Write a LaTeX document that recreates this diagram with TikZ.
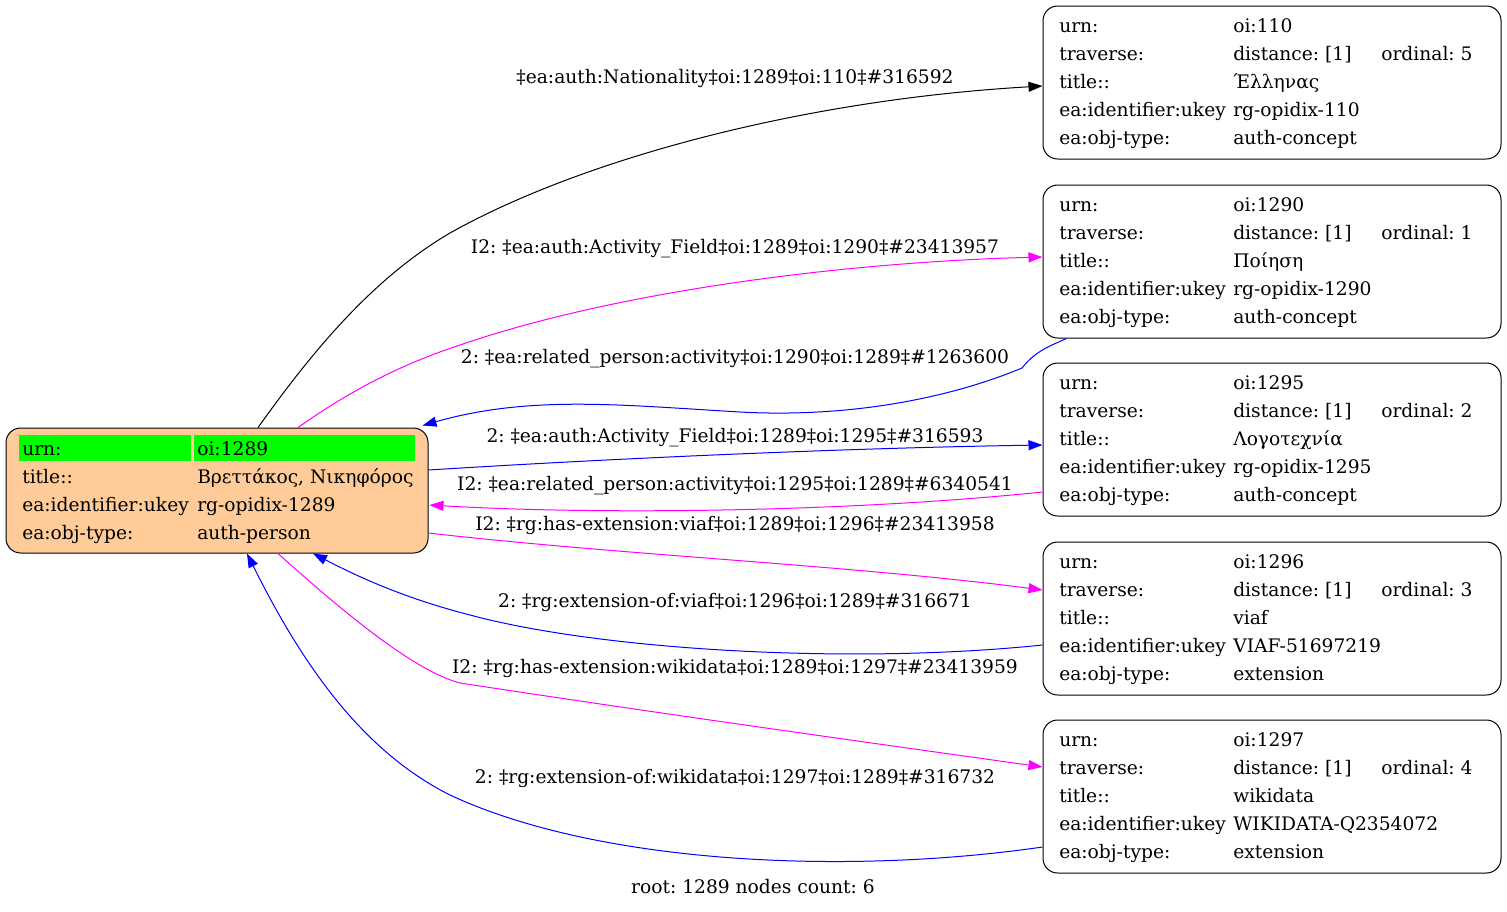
\documentclass[tikz,border=0pt]{standalone}
\usepackage{fontspec}
\setmainfont{DejaVu Serif}
\usetikzlibrary{arrows.meta,calc}
\definecolor{peach}{HTML}{FFCC99}
\definecolor{grn}{HTML}{00FF00}
\definecolor{mag}{HTML}{FF00FF}
\definecolor{blu}{HTML}{0000FF}
\frenchspacing
\tikzset{
 rbox/.style={draw, rounded corners=11pt, line width=0.75pt, minimum width=343.5pt, minimum height=114.75pt, inner sep=0pt},
 mbox/.style={rbox, fill=peach, minimum width=316.5pt, minimum height=93.75pt},
 cell/.style={anchor=base west, inner sep=0pt, font=\fontsize{14}{16}\selectfont},
 elab/.style={anchor=base, inner sep=0pt, font=\fontsize{14}{16}\selectfont},
 conn/.style={line width=0.75pt, -{Triangle[length=10.5pt,width=7.5pt]}},
}
\newcommand\mkrbox[7]{%
 \node[rbox] (#1) at (1272,#2) {};
 \node[cell] (#1-k1) at (1059,{#2-50.5}) {urn:};
 \node[cell] (#1-v1) at (1233,{#2-50.5}) {#3};
 \node[cell] (#1-k2) at (1059,{#2-22.5}) {traverse:};
 \node[cell] (#1-v2) at (1233,{#2-22.5}) {distance: [1]};
 \node[cell] (#1-o2) at (1381,{#2-22.5}) {ordinal: #4};
 \node[cell] (#1-k3) at (1059,{#2+5.5}) {title::};
 \node[cell] (#1-v3) at (1233,{#2+5.5}) {#5};
 \node[cell] (#1-k4) at (1059,{#2+33.5}) {ea:identifier:ukey};
 \node[cell] (#1-v4) at (1233,{#2+33.5}) {#6};
 \node[cell] (#1-k5) at (1059,{#2+61.5}) {ea:obj-type:};
 \node[cell] (#1-v5) at (1233,{#2+61.5}) {#7};
}
\begin{document}
\begin{tikzpicture}[x=0.75pt,y=-0.75pt]
\useasboundingbox (0,0) rectangle (1507,911);
% main node
\node[mbox] (main) at (217,490.5) {};
\fill[grn] (19,435) rectangle (191,461);
\fill[grn] (194,435) rectangle (415,461);
\node[cell] (m-k1) at (22,455) {urn:};
\node[cell] (m-v1) at (197,455) {oi:1289};
\node[cell] (m-k2) at (22,483) {title::};
\node[cell] (m-v2) at (197,483) {Βρεττάκος, Νικηφόρος};
\node[cell] (m-k3) at (22,511) {ea:identifier:ukey};
\node[cell] (m-v3) at (197,511) {rg-opidix-1289};
\node[cell] (m-k4) at (22,539) {ea:obj-type:};
\node[cell] (m-v4) at (197,539) {auth-person};
% right nodes
\mkrbox{b1}{82.5}{oi:110}{5}{Έλληνας}{rg-opidix-110}{auth-concept}
\mkrbox{b2}{261.5}{oi:1290}{1}{Ποίηση}{rg-opidix-1290}{auth-concept}
\mkrbox{b3}{439.5}{oi:1295}{2}{Λογοτεχνία}{rg-opidix-1295}{auth-concept}
\mkrbox{b4}{618.5}{oi:1296}{3}{viaf}{VIAF-51697219}{extension}
\mkrbox{b5}{796.5}{oi:1297}{4}{wikidata}{WIKIDATA-Q2354072}{extension}
% edges
\draw[conn, black] ($(main.north)+(41,0)$) .. controls (310,355) and (370,280) .. (450,233) .. controls (580,160) and (800,100) .. ($(b1.west)+(0,3.5)$);
\draw[conn, mag] ($(main.north)+(81,0)$) .. controls (340,398) and (390,368) .. (460,345) .. controls (620,290) and (850,262) .. ($(b2.west)+(0,-4.5)$);
\draw[conn, blu] ($(b2.south west)+(24,0)$) .. controls (1045,348) and (1035,352) .. (1022,368) .. controls (950,398) and (850,418) .. (740,412) .. controls (620,405) and (530,395) .. ($(main.north east)+(-6,-2)$);
\draw[conn, blu] ($(main.east)+(0,-20.5)$) .. controls (620,458) and (850,448) .. ($(b3.west)+(0,5.5)$);
\draw[conn, mag] ($(b3.west)+(0,52.5)$) .. controls (850,512) and (600,515) .. ($(main.east)+(1,14.5)$);
\draw[conn, mag] ($(main.east)+(0,42.5)$) .. controls (620,555) and (850,565) .. ($(b4.west)+(0,-28.5)$);
\draw[conn, blu] ($(b4.west)+(0,26.5)$) .. controls (850,665) and (600,650) .. (470,615) .. controls (400,597) and (355,575) .. ($(main.south)+(96,0)$);
\draw[conn, mag] ($(main.south)+(61,0)$) .. controls (330,600) and (410,670) .. (460,683) .. controls (650,712) and (850,740) .. ($(b5.west)+(0,-29.5)$);
\draw[conn, blu] ($(b5.west)+(0,50.5)$) .. controls (850,875) and (600,865) .. (450,795) .. controls (360,750) and (300,660) .. ($(main.south)+(30,0)$);
% edge labels
\node[elab] (l1) at (735,83) {‡ea:auth:Nationality‡oi:1289‡oi:110‡\#316592};
\node[elab] (l2) at (735,253) {I2: ‡ea:auth:Activity\_Field‡oi:1289‡oi:1290‡\#23413957};
\node[elab] (l3) at (735,363) {2: ‡ea:related\_person:activity‡oi:1290‡oi:1289‡\#1263600};
\node[elab] (l4) at (735,442) {2: ‡ea:auth:Activity\_Field‡oi:1289‡oi:1295‡\#316593};
\node[elab] (l5) at (735,490) {I2: ‡ea:related\_person:activity‡oi:1295‡oi:1289‡\#6340541};
\node[elab] (l6) at (735,530) {I2: ‡rg:has-extension:viaf‡oi:1289‡oi:1296‡\#23413958};
\node[elab] (l7) at (735,607) {2: ‡rg:extension-of:viaf‡oi:1296‡oi:1289‡\#316671};
\node[elab] (l8) at (735,673) {I2: ‡rg:has-extension:wikidata‡oi:1289‡oi:1297‡\#23413959};
\node[elab] (l9) at (735,783) {2: ‡rg:extension-of:wikidata‡oi:1297‡oi:1289‡\#316732};
\node[elab] (cap) at (753,893) {root: 1289 nodes count: 6};
\end{tikzpicture}
\end{document}
